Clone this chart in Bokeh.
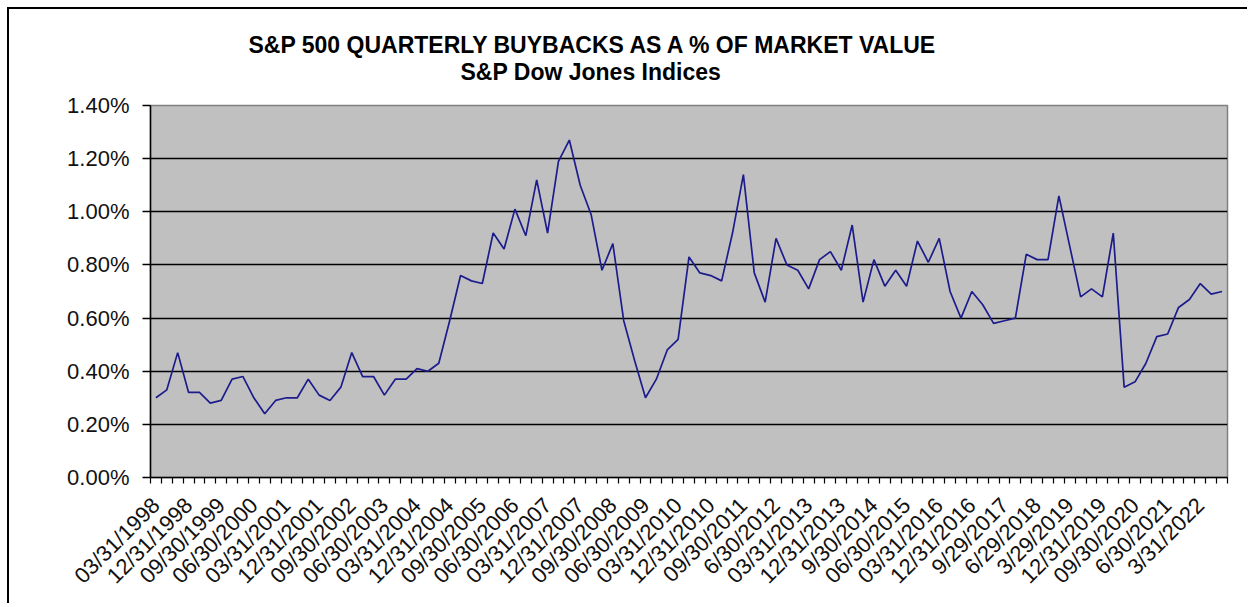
import math
from bokeh.plotting import figure
from bokeh.models import FixedTicker, PrintfTickFormatter, Range1d, Title
from bokeh.embed import file_html
from bokeh.resources import INLINE

# Tick labels shown on the category axis (every third quarter)
tick_labels = [
    "03/31/1998", "12/31/1998", "09/30/1999", "06/30/2000", "03/31/2001",
    "12/31/2001", "09/30/2002", "06/30/2003", "03/31/2004", "12/31/2004",
    "09/30/2005", "06/30/2006", "03/31/2007", "12/31/2007", "09/30/2008",
    "06/30/2009", "03/31/2010", "12/31/2010", "09/30/2011", "6/30/2012",
    "03/31/2013", "12/31/2013", "9/30/2014", "06/30/2015", "03/31/2016",
    "12/31/2016", "9/29/2017", "6/29/2018", "3/29/2019", "12/31/2019",
    "09/30/2020", "6/30/2021", "3/31/2022",
]
label_every = 3

# Quarterly buybacks as % of market value, Q1 1998 .. Q3 2022
buyback_pct = [
    0.30, 0.33, 0.47, 0.32, 0.32, 0.28, 0.29, 0.37, 0.38, 0.30,
    0.24, 0.29, 0.30, 0.30, 0.37, 0.31, 0.29, 0.34, 0.47, 0.38,
    0.38, 0.31, 0.37, 0.37, 0.41, 0.40, 0.43, 0.59, 0.76, 0.74,
    0.73, 0.92, 0.86, 1.01, 0.91, 1.12, 0.92, 1.19, 1.27, 1.10,
    0.99, 0.78, 0.88, 0.59, 0.44, 0.30, 0.37, 0.48, 0.52, 0.83,
    0.77, 0.76, 0.74, 0.92, 1.14, 0.77, 0.66, 0.90, 0.80, 0.78,
    0.71, 0.82, 0.85, 0.78, 0.95, 0.66, 0.82, 0.72, 0.78, 0.72,
    0.89, 0.81, 0.90, 0.70, 0.60, 0.70, 0.65, 0.58, 0.59, 0.60,
    0.84, 0.82, 0.82, 1.06, 0.87, 0.68, 0.71, 0.68, 0.92, 0.34,
    0.36, 0.43, 0.53, 0.54, 0.64, 0.67, 0.73, 0.69, 0.70,
]

title_text = "S&P 500 QUARTERLY  BUYBACKS  AS A % OF MARKET  VALUE"
subtitle_text = "S&P Dow Jones Indices"

n = len(buyback_pct)
xs = [i + 0.5 for i in range(n)]

FONT = "Liberation Sans"

p = figure(
    width=1240, height=596,
    x_range=Range1d(0, n), y_range=Range1d(0, 1.4),
    output_backend="svg", toolbar_location=None,
    min_border_left=141, min_border_right=22,
    min_border_top=96, min_border_bottom=128,
    background_fill_color="#c0c0c0",
    border_fill_color="white",
)
p.styles = {"margin-left": "7px", "margin-top": "7px",
            "border-left": "2px solid #000", "border-top": "2px solid #000"}

p.outline_line_color = "#808080"
p.outline_line_width = 1.5

# y axis
p.yaxis.ticker = FixedTicker(ticks=[0.0, 0.2, 0.4, 0.6, 0.8, 1.0, 1.2, 1.4])
p.yaxis.formatter = PrintfTickFormatter(format="%.2f%%")
p.yaxis.axis_line_color = "black"
p.yaxis.axis_line_width = 1.5
p.yaxis.major_tick_line_color = "black"
p.yaxis.major_tick_line_width = 1.5
p.yaxis.major_tick_out = 8
p.yaxis.major_tick_in = 0
p.yaxis.minor_tick_line_color = None
p.yaxis.major_label_text_font = FONT
p.yaxis.major_label_text_font_size = "22px"
p.yaxis.major_label_text_color = "#111111"
p.yaxis.major_label_standoff = 13

# x axis
label_pos = [i * label_every + 0.5 for i in range(len(tick_labels))]
p.xaxis.ticker = FixedTicker(ticks=label_pos, minor_ticks=list(range(n + 1)))
p.xaxis.major_label_overrides = {pos: lab for pos, lab in zip(label_pos, tick_labels)}
p.xaxis.axis_line_color = "black"
p.xaxis.axis_line_width = 1.5
p.xaxis.major_tick_out = 0
p.xaxis.major_tick_in = 0
p.xaxis.minor_tick_out = 6
p.xaxis.minor_tick_in = 0
p.xaxis.minor_tick_line_color = "black"
p.xaxis.minor_tick_line_width = 1.2
p.xaxis.major_label_orientation = math.pi / 4
p.xaxis.major_label_text_font = FONT
p.xaxis.major_label_text_font_size = "22px"
p.xaxis.major_label_text_color = "#111111"
p.xaxis.major_label_standoff = 18

# grid
p.xgrid.grid_line_color = None
p.ygrid.grid_line_color = "black"
p.ygrid.grid_line_width = 1.6

p.line(xs, buyback_pct, line_color="#1c1c8c", line_width=1.7)

# titles: subtitle added first so it sits closest to the plot
p.add_layout(Title(text=subtitle_text, align="left", offset=310, standoff=42,
                   text_font=FONT, text_font_size="23px", text_font_style="bold",
                   text_color="black"), "above")
p.add_layout(Title(text=title_text, align="left", offset=98, standoff=-45,
                   text_font=FONT, text_font_size="23px", text_font_style="bold",
                   text_color="black"), "above")

open("out.html", "w").write(file_html(p, INLINE))
